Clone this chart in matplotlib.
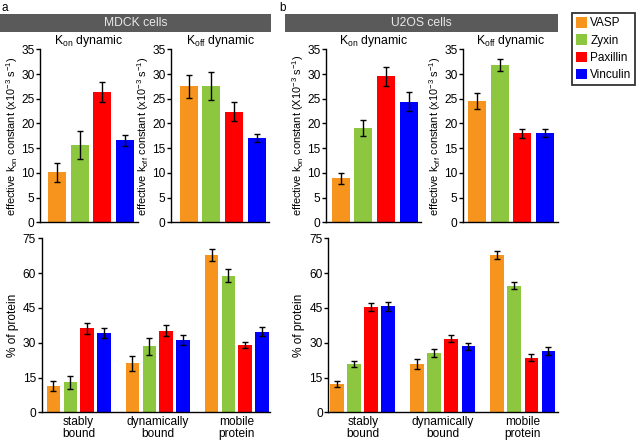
import matplotlib
matplotlib.use("Agg")
import matplotlib.pyplot as plt
import numpy as np
from matplotlib.patches import Rectangle, Patch

plt.rcParams['font.family'] = ['Liberation Sans', 'DejaVu Sans']
plt.rcParams['mathtext.fontset'] = 'custom'
plt.rcParams['mathtext.rm'] = 'Liberation Sans'
plt.rcParams['mathtext.it'] = 'Liberation Sans:italic'
plt.rcParams['mathtext.default'] = 'regular'

proteins = ["VASP", "Zyxin", "Paxillin", "Vinculin"]
colors = ["#F7941D", "#8DC63F", "#FF0000", "#0000FF"]
categories = ["stably\nbound", "dynamically\nbound", "mobile\nprotein"]

# MDCK
mdck_kon = [10.1, 15.7, 26.4, 16.6]
mdck_kon_err = [1.85, 2.85, 2.0, 1.15]
mdck_koff = [27.5, 27.6, 22.4, 17.1]
mdck_koff_err = [2.4, 2.8, 1.85, 0.8]
mdck_frac = {
    "VASP": [11.5, 21.1, 67.7],
    "Zyxin": [12.9, 28.4, 58.9],
    "Paxillin": [36.2, 35.2, 29.0],
    "Vinculin": [34.3, 31.2, 34.8],
}
mdck_frac_err = {
    "VASP": [2.2, 3.1, 2.5],
    "Zyxin": [2.9, 3.6, 2.7],
    "Paxillin": [2.3, 2.5, 1.1],
    "Vinculin": [2.1, 2.0, 1.8],
}

# U2OS
u2os_kon = [8.9, 19.1, 29.5, 24.4]
u2os_kon_err = [1.15, 1.65, 1.9, 1.95]
u2os_koff = [24.6, 31.8, 18.0, 18.1]
u2os_koff_err = [1.65, 1.2, 0.85, 0.8]
u2os_frac = {
    "VASP": [12.2, 20.7, 67.8],
    "Zyxin": [20.8, 25.4, 54.6],
    "Paxillin": [45.3, 31.8, 23.6],
    "Vinculin": [45.8, 28.4, 26.4],
}
u2os_frac_err = {
    "VASP": [1.4, 2.15, 1.8],
    "Zyxin": [1.3, 1.7, 1.6],
    "Paxillin": [1.8, 1.7, 1.4],
    "Vinculin": [1.95, 1.6, 1.6],
}

W, H = 640, 440
fig = plt.figure(figsize=(W / 100, H / 100), dpi=100)


def add_ax(x0, x1, ytop, ybot):
    return fig.add_axes([x0 / W, 1 - ybot / H, (x1 - x0) / W, (ybot - ytop) / H])


def style(ax):
    for s in ("top", "right"):
        ax.spines[s].set_visible(False)
    for s in ("left", "bottom"):
        ax.spines[s].set_linewidth(1.0)
    ax.tick_params(axis="y", direction="out", length=3, width=1, labelsize=8.6, pad=1)
    ax.tick_params(axis="x", length=0, labelsize=8.6)


def rate_panel(ax, vals, errs, xlim, ylabel, title):
    x = np.arange(len(vals))
    ax.bar(x, vals, width=0.8, color=colors, edgecolor="none")
    ax.errorbar(x, vals, yerr=errs, fmt="none", ecolor="black", elinewidth=1,
                capsize=2.5, capthick=1)
    ax.set_xlim(*xlim)
    ax.set_ylim(0, 35)
    ax.set_yticks(np.arange(0, 36, 5))
    ax.set_xticks([])
    ax.set_ylabel(ylabel, fontsize=7.9, labelpad=1)
    ax.set_title(title, fontsize=8.8, pad=2)
    style(ax)


def frac_panel(ax, data, errs, xlim):
    g = np.arange(len(categories))
    pitch = 0.213
    for i, p in enumerate(proteins):
        xs = g + (i - 1.5) * pitch
        ax.bar(xs, data[p], width=0.17, color=colors[i], edgecolor="none")
        ax.errorbar(xs, data[p], yerr=errs[p], fmt="none", ecolor="black",
                    elinewidth=1, capsize=2.5, capthick=1)
    ax.set_xlim(*xlim)
    ax.set_ylim(0, 75)
    ax.set_yticks(np.arange(0, 76, 15))
    ax.set_xticks(g)
    ax.set_xticklabels(categories, fontsize=8.6, linespacing=0.95)
    style(ax)
    ax.tick_params(axis="x", pad=3)


unit = r" constant (x10$^{-3}$ s$^{-1}$)"
unitX = r" constant (X10$^{-3}$ s$^{-1}$)"

ax1 = add_ax(40, 137.7, 49.3, 222.3)
rate_panel(ax1, mdck_kon, mdck_kon_err, (-0.76, 3.58),
           r"effective k$_{on}$" + unit, r"K$_{on}$ dynamic")
ax2 = add_ax(171, 269, 49.3, 222.3)
rate_panel(ax2, mdck_koff, mdck_koff_err, (-0.79, 3.55),
           r"effective k$_{off}$" + unit, r"K$_{off}$ dynamic")
ax3 = add_ax(326, 421, 49.3, 222.3)
rate_panel(ax3, u2os_kon, u2os_kon_err, (-0.66, 3.55),
           r"effective k$_{on}$" + unitX, r"K$_{on}$ dynamic")
ax4 = add_ax(463, 558, 49.3, 222.3)
rate_panel(ax4, u2os_koff, u2os_koff_err, (-0.62, 3.58),
           r"effective k$_{off}$" + unit, r"K$_{off}$ dynamic")

ax5 = add_ax(41.5, 270, 238.3, 412.3)
frac_panel(ax5, mdck_frac, mdck_frac_err, (-0.47, 2.42))
ax5.set_ylabel("% of protein", fontsize=8.6, labelpad=3)
ax6 = add_ax(328.3, 558, 238.3, 412.3)
frac_panel(ax6, u2os_frac, u2os_frac_err, (-0.43, 2.44))
ax6.set_ylabel("% of protein", fontsize=8.6, labelpad=3)

# Headers
hdr_color = "#5a5a5a"
for (x0, x1, label) in [(0, 271, "MDCK cells"), (285, 558, "U2OS cells")]:
    fig.patches.append(Rectangle((x0 / W, 1 - 31.7 / H), (x1 - x0) / W, 17.7 / H,
                                 transform=fig.transFigure, facecolor=hdr_color,
                                 edgecolor="none"))
    fig.text((x0 + x1) / 2 / W, 1 - 23 / H, label, ha="center", va="center",
             color="#e8e8e8", fontsize=8.7)

fig.text(2 / W, 1 - 8 / H, "a", ha="left", va="center", fontsize=8.5)
fig.text(279 / W, 1 - 8 / H, "b", ha="left", va="center", fontsize=8.5)

handles = [Patch(facecolor=c, edgecolor="none") for c in colors]
leg = fig.legend(handles, proteins, loc="upper left",
                 bbox_to_anchor=(572 / W, 1 - 13.5 / H), fontsize=8.5,
                 frameon=True, fancybox=False, handlelength=1.0, handleheight=1.0,
                 handletextpad=0.25, borderpad=0.3, labelspacing=0.42,
                 borderaxespad=0)
leg.get_frame().set_edgecolor("black")
leg.get_frame().set_linewidth(1.3)

fig.savefig("out.png", dpi=100)
